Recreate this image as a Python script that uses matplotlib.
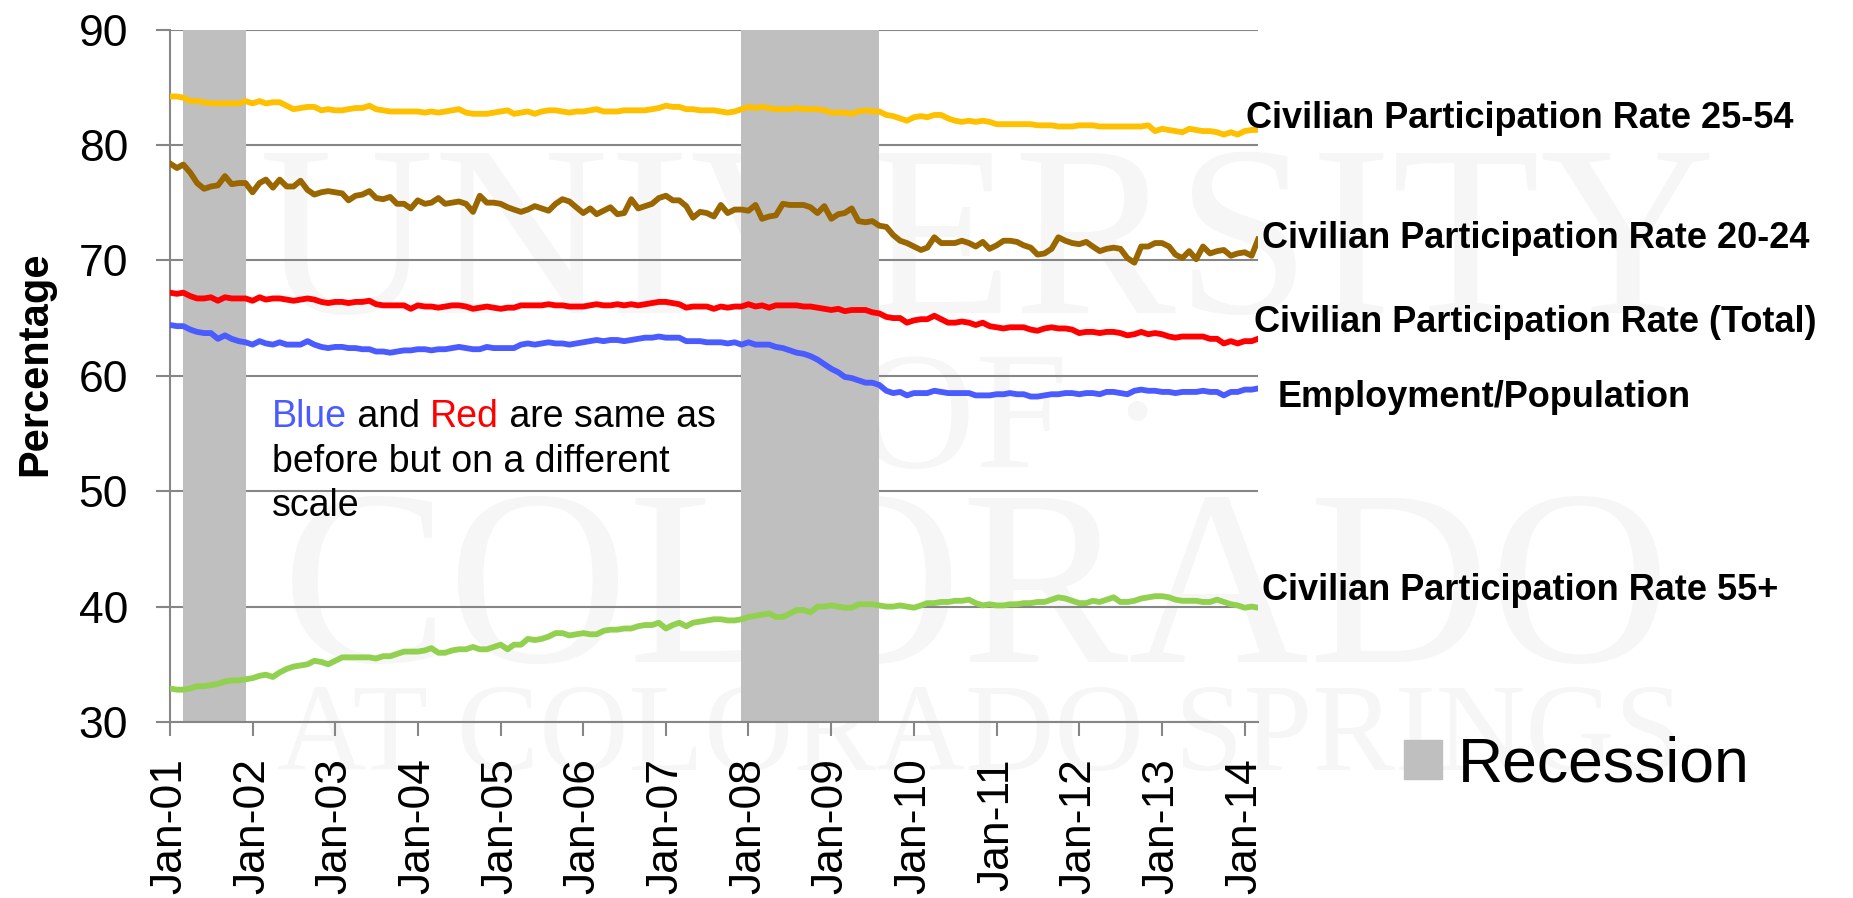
import matplotlib
matplotlib.use('Agg')
import matplotlib.pyplot as plt
import matplotlib.dates as mdates
import matplotlib.transforms as mtransforms
from matplotlib.patches import Patch
import pandas as pd

# monthly values, Jan 2001 - Mar 2014
rate_25_54 = [
    84.2, 84.2, 84.1, 83.8, 83.8, 83.7, 83.6, 83.6, 83.6, 83.6, 83.6, 83.8,
    83.6, 83.8, 83.6, 83.7, 83.7, 83.4, 83.1, 83.2, 83.3, 83.3, 83.0, 83.1,
    83.0, 83.0, 83.1, 83.2, 83.2, 83.4, 83.1, 83.0, 82.9, 82.9, 82.9, 82.9,
    82.9, 82.8, 82.9, 82.8, 82.9, 83.0, 83.1, 82.8, 82.7, 82.7, 82.7, 82.8,
    82.9, 83.0, 82.7, 82.8, 82.9, 82.7, 82.9, 83.0, 83.0, 82.9, 82.8, 82.9,
    82.9, 83.0, 83.1, 82.9, 82.9, 82.9, 83.0, 83.0, 83.0, 83.0, 83.1, 83.2,
    83.4, 83.3, 83.3, 83.1, 83.1, 83.0, 83.0, 83.0, 82.9, 82.8, 82.9, 83.1,
    83.3, 83.2, 83.3, 83.2, 83.1, 83.1, 83.1, 83.2, 83.1, 83.1, 83.1, 83.0,
    82.8, 82.8, 82.8, 82.7, 82.9, 83.0, 82.9, 82.9, 82.6, 82.5, 82.3, 82.1,
    82.4, 82.5, 82.4, 82.6, 82.6, 82.3, 82.1, 82.0, 82.1, 82.0, 82.1, 82.0,
    81.8, 81.8, 81.8, 81.8, 81.8, 81.8, 81.7, 81.7, 81.7, 81.6, 81.6, 81.6,
    81.7, 81.7, 81.7, 81.6, 81.6, 81.6, 81.6, 81.6, 81.6, 81.6, 81.7, 81.2,
    81.4, 81.3, 81.2, 81.1, 81.4, 81.3, 81.2, 81.2, 81.1, 80.9, 81.1, 80.9,
    81.2, 81.3, 81.3,
]

rate_20_24 = [
    78.4, 78.0, 78.3, 77.6, 76.7, 76.2, 76.4, 76.5, 77.3, 76.6, 76.7, 76.7,
    75.9, 76.7, 77.0, 76.3, 77.0, 76.4, 76.4, 76.9, 76.1, 75.7, 75.9, 76.0,
    75.9, 75.8, 75.2, 75.6, 75.7, 76.0, 75.4, 75.3, 75.5, 74.9, 74.9, 74.5,
    75.2, 74.9, 75.0, 75.4, 74.9, 75.0, 75.1, 74.9, 74.2, 75.6, 75.0, 75.0,
    74.9, 74.6, 74.4, 74.2, 74.4, 74.7, 74.5, 74.3, 74.9, 75.3, 75.1, 74.6,
    74.1, 74.5, 74.0, 74.3, 74.6, 74.0, 74.1, 75.3, 74.5, 74.7, 74.9, 75.4,
    75.6, 75.2, 75.2, 74.7, 73.7, 74.2, 74.1, 73.8, 74.8, 74.1, 74.4, 74.4,
    74.3, 74.8, 73.6, 73.8, 73.9, 74.9, 74.8, 74.8, 74.8, 74.6, 74.1, 74.7,
    73.6, 74.0, 74.1, 74.5, 73.4, 73.3, 73.4, 73.0, 72.9, 72.2, 71.7, 71.5,
    71.2, 70.9, 71.1, 72.0, 71.5, 71.5, 71.5, 71.7, 71.5, 71.2, 71.6, 71.0,
    71.3, 71.7, 71.7, 71.6, 71.3, 71.1, 70.5, 70.6, 71.0, 72.0, 71.7, 71.5,
    71.4, 71.6, 71.2, 70.8, 71.0, 71.1, 71.0, 70.2, 69.8, 71.2, 71.2, 71.5,
    71.5, 71.2, 70.5, 70.2, 70.8, 70.1, 71.2, 70.6, 70.8, 70.9, 70.4, 70.6,
    70.7, 70.4, 71.8,
]

rate_total = [
    67.2, 67.1, 67.2, 66.9, 66.7, 66.7, 66.8, 66.5, 66.8, 66.7, 66.7, 66.7,
    66.5, 66.8, 66.6, 66.7, 66.7, 66.6, 66.5, 66.6, 66.7, 66.6, 66.4, 66.3,
    66.4, 66.4, 66.3, 66.4, 66.4, 66.5, 66.2, 66.1, 66.1, 66.1, 66.1, 65.8,
    66.1, 66.0, 66.0, 65.9, 66.0, 66.1, 66.1, 66.0, 65.8, 65.9, 66.0, 65.9,
    65.8, 65.9, 65.9, 66.1, 66.1, 66.1, 66.1, 66.2, 66.1, 66.1, 66.0, 66.0,
    66.0, 66.1, 66.2, 66.1, 66.1, 66.2, 66.1, 66.2, 66.1, 66.2, 66.3, 66.4,
    66.4, 66.3, 66.2, 65.9, 66.0, 66.0, 66.0, 65.8, 66.0, 65.9, 66.0, 66.0,
    66.2, 66.0, 66.1, 65.9, 66.1, 66.1, 66.1, 66.1, 66.0, 66.0, 65.9, 65.8,
    65.7, 65.8, 65.6, 65.7, 65.7, 65.7, 65.5, 65.4, 65.1, 65.0, 65.0, 64.6,
    64.8, 64.9, 64.9, 65.2, 64.9, 64.6, 64.6, 64.7, 64.6, 64.4, 64.6, 64.3,
    64.2, 64.1, 64.2, 64.2, 64.2, 64.0, 63.9, 64.1, 64.2, 64.1, 64.1, 64.0,
    63.7, 63.8, 63.8, 63.7, 63.8, 63.8, 63.7, 63.5, 63.6, 63.8, 63.6, 63.7,
    63.6, 63.4, 63.3, 63.4, 63.4, 63.4, 63.4, 63.2, 63.2, 62.8, 63.0, 62.8,
    63.0, 63.0, 63.2,
]

emp_pop = [
    64.4, 64.3, 64.3, 64.0, 63.8, 63.7, 63.7, 63.2, 63.5, 63.2, 63.0, 62.9,
    62.7, 63.0, 62.8, 62.7, 62.9, 62.7, 62.7, 62.7, 63.0, 62.7, 62.5, 62.4,
    62.5, 62.5, 62.4, 62.4, 62.3, 62.3, 62.1, 62.1, 62.0, 62.1, 62.2, 62.2,
    62.3, 62.3, 62.2, 62.3, 62.3, 62.4, 62.5, 62.4, 62.3, 62.3, 62.5, 62.4,
    62.4, 62.4, 62.4, 62.7, 62.8, 62.7, 62.8, 62.9, 62.8, 62.8, 62.7, 62.8,
    62.9, 63.0, 63.1, 63.0, 63.1, 63.1, 63.0, 63.1, 63.2, 63.3, 63.3, 63.4,
    63.3, 63.3, 63.3, 63.0, 63.0, 63.0, 62.9, 62.9, 62.9, 62.8, 62.9, 62.7,
    62.9, 62.7, 62.7, 62.7, 62.5, 62.4, 62.2, 62.0, 61.9, 61.7, 61.4, 61.0,
    60.6, 60.3, 59.9, 59.8, 59.6, 59.4, 59.4, 59.2, 58.7, 58.5, 58.6, 58.3,
    58.5, 58.5, 58.5, 58.7, 58.6, 58.5, 58.5, 58.5, 58.5, 58.3, 58.3, 58.3,
    58.4, 58.4, 58.5, 58.4, 58.4, 58.2, 58.2, 58.3, 58.4, 58.4, 58.5, 58.5,
    58.4, 58.5, 58.5, 58.4, 58.6, 58.6, 58.5, 58.4, 58.7, 58.8, 58.7, 58.7,
    58.6, 58.6, 58.5, 58.6, 58.6, 58.6, 58.7, 58.6, 58.6, 58.3, 58.6, 58.6,
    58.8, 58.8, 58.9,
]

rate_55_plus = [
    32.9, 32.8, 32.8, 32.9, 33.1, 33.1, 33.2, 33.3, 33.5, 33.6, 33.6, 33.7,
    33.8, 34.0, 34.1, 33.9, 34.3, 34.6, 34.8, 34.9, 35.0, 35.3, 35.2, 35.0,
    35.3, 35.6, 35.6, 35.6, 35.6, 35.6, 35.5, 35.7, 35.7, 35.9, 36.1, 36.1,
    36.1, 36.2, 36.4, 36.0, 36.0, 36.2, 36.3, 36.3, 36.5, 36.3, 36.3, 36.5,
    36.7, 36.3, 36.7, 36.7, 37.2, 37.1, 37.2, 37.4, 37.7, 37.7, 37.5, 37.6,
    37.7, 37.6, 37.6, 37.9, 38.0, 38.0, 38.1, 38.1, 38.3, 38.4, 38.4, 38.6,
    38.1, 38.4, 38.6, 38.3, 38.6, 38.7, 38.8, 38.9, 38.9, 38.8, 38.8, 38.9,
    39.1, 39.2, 39.3, 39.4, 39.1, 39.1, 39.4, 39.7, 39.7, 39.5, 40.0, 40.0,
    40.1, 40.0, 39.9, 39.9, 40.2, 40.2, 40.2, 40.1, 40.0, 40.0, 40.1, 40.0,
    39.9, 40.1, 40.3, 40.3, 40.4, 40.4, 40.5, 40.5, 40.6, 40.3, 40.1, 40.2,
    40.1, 40.1, 40.2, 40.2, 40.3, 40.3, 40.4, 40.4, 40.6, 40.8, 40.7, 40.5,
    40.3, 40.3, 40.5, 40.4, 40.6, 40.8, 40.4, 40.4, 40.5, 40.7, 40.8, 40.9,
    40.9, 40.8, 40.6, 40.5, 40.5, 40.5, 40.4, 40.4, 40.6, 40.4, 40.2, 40.1,
    39.9, 40.0, 39.9,
]

recessions = [('2001-03-01', '2001-12-01'), ('2007-12-01', '2009-08-01')]

dates = pd.date_range('2001-01-01', periods=len(rate_total), freq='MS')

plt.rcParams['font.family'] = ['Liberation Sans', 'DejaVu Sans']

fig = plt.figure(figsize=(18.53, 8.98), dpi=100)
ax = fig.add_axes([0.0917, 0.196, 0.5872, 0.7711])
ax.set_facecolor('none')

# faint university watermark behind the chart
wm = dict(family='Liberation Serif', color='#f6f6f6', ha='center', va='baseline', zorder=-1)
fig.text(0.533, 0.651, 'UNIVERSITY', fontsize=175, **wm)
fig.text(0.545, 0.48, 'OF ·', fontsize=120, **wm)
fig.text(0.527, 0.263, 'COLORADO', fontsize=180, **wm)
fig.text(0.529, 0.143, 'AT COLORADO SPRINGS', fontsize=89, **wm)

for start, end in recessions:
    ax.axvspan(pd.Timestamp(start), pd.Timestamp(end), color='#bfbfbf', lw=0, zorder=1)

lw = 4.2
ax.plot(dates, rate_25_54, color='#ffc000', lw=lw, zorder=3)
ax.plot(dates, rate_20_24, color='#996600', lw=lw, zorder=3)
ax.plot(dates, rate_total, color='#ff0000', lw=lw, zorder=3)
ax.plot(dates, emp_pop, color='#4a5bff', lw=lw, zorder=3)
ax.plot(dates, rate_55_plus, color='#92d050', lw=lw, zorder=3)

ax.set_xlim(dates[0], dates[-1])
ax.set_ylim(30, 90)
ax.set_yticks(range(30, 91, 10))
ax.xaxis.set_major_locator(mdates.YearLocator())
ax.xaxis.set_major_formatter(mdates.DateFormatter('%b-%y'))

grid_color = '#868686'
ax.set_axisbelow(True)
ax.yaxis.grid(True, color=grid_color, lw=1.5)
for side in ['top', 'right']:
    ax.spines[side].set_visible(False)
for side in ['left', 'bottom']:
    ax.spines[side].set_color(grid_color)
    ax.spines[side].set_linewidth(1.5)

ax.tick_params(axis='y', length=10, width=1.5, color=grid_color, labelsize=32, pad=20)
ax.tick_params(axis='x', length=10, width=1.5, color=grid_color, labelsize=32, pad=16,
               labelrotation=90)

ax.set_ylabel('Percentage', fontsize=30, fontweight='bold')
ax.yaxis.set_label_coords(-0.105, 0.518)

# series labels to the right of the plot
trans = mtransforms.blended_transform_factory(ax.transAxes, ax.transData)
labels = [
    ('Civilian Participation Rate 25-54', 0.989, 82.33),
    ('Civilian Participation Rate 20-24', 1.0037, 71.93),
    ('Civilian Participation Rate (Total)', 0.9963, 64.65),
    ('Employment/Population', 1.018, 58.15),
    ('Civilian Participation Rate 55+', 1.0037, 41.43),
]
for text, x, y in labels:
    ax.text(x, y, text, transform=trans, fontsize=26, fontweight='bold',
            ha='left', va='center', clip_on=False, zorder=5)

# note with coloured words
note_size = 27
t = ax.text(0.0938, 0.426, 'Blue', color='#4a5bff', fontsize=note_size,
            transform=ax.transAxes, va='baseline', ha='left', zorder=5)
for piece, color in [(' and ', 'black'), ('Red', '#ff0000'), (' are same as', 'black')]:
    t = ax.annotate(piece, xy=(1, 0), xycoords=t, va='bottom', ha='left',
                    color=color, fontsize=note_size, zorder=5)
ax.text(0.0938, 0.3614, 'before but on a different', fontsize=note_size,
        transform=ax.transAxes, va='baseline', ha='left', zorder=5)
ax.text(0.0938, 0.2972, 'scale', fontsize=note_size,
        transform=ax.transAxes, va='baseline', ha='left', zorder=5)

ax.legend(handles=[Patch(color='#bfbfbf', label='Recession')], loc='center left',
          bbox_to_anchor=(0.7577, 0.148), bbox_transform=fig.transFigure,
          frameon=False, fontsize=45, handlelength=0.6, handleheight=0.58,
          handletextpad=0.26, borderpad=0, borderaxespad=0)

fig.savefig('out.png', dpi=100)
